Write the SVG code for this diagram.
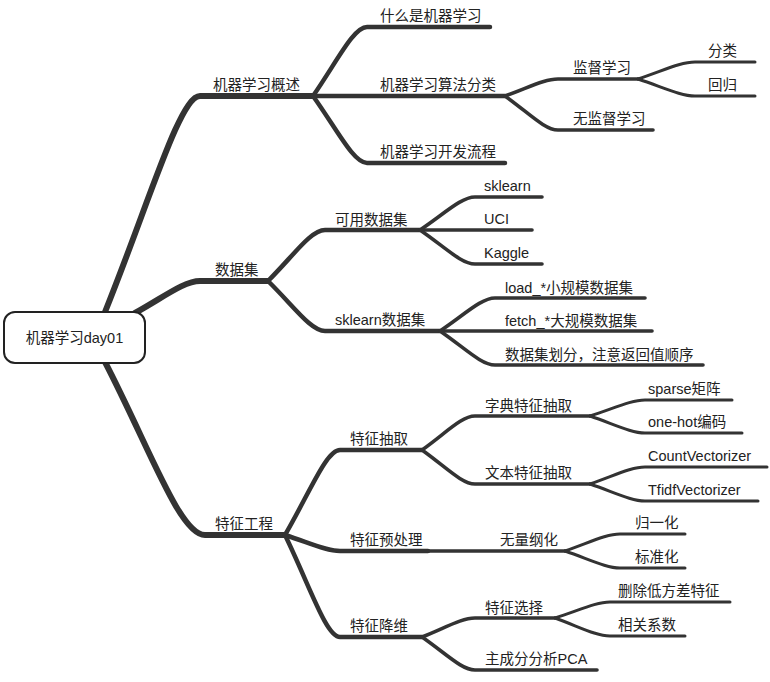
<svg xmlns="http://www.w3.org/2000/svg" width="770" height="682" viewBox="0 0 770 682">
<style>
  .bg { fill: #ffffff; }
  .l { fill: none; stroke: #333333; stroke-linecap: round; stroke-linejoin: round; }
  .l1 { stroke-width: 6; }
  .l2 { stroke-width: 4.5; }
  .l3 { stroke-width: 3.6; }
  .l4 { stroke-width: 3; }
  text { font-family: "Liberation Sans", "Noto Sans CJK SC", sans-serif; font-size: 14.5px; fill: #222222; }
  .root { fill: #ffffff; stroke: #222222; stroke-width: 2; }
</style>
<rect class="bg" x="0" y="0" width="770" height="682"/>
<g id="connectors">
  <path class="l l1" d="M105,312 C150,200 180,96 200,96 H313"/>
  <path class="l l1" d="M135,313 C164,297 184,281 200,281 H268"/>
  <path class="l l1" d="M105,362 C150,449 180,535 205,535 H285"/>

  <path class="l l2" d="M313,96 C337,61.5 353.5,27 367,27 H490"/>
  <path class="l l2" d="M313,96 H505"/>
  <path class="l l2" d="M313,96 C337,129.5 353.5,163 367,163 H505"/>
  <path class="l l2" d="M268,281 C293.6,255.5 310.8,230 325,230 H420"/>
  <path class="l l2" d="M268,281 C293.6,306 310.8,331 325,331 H440"/>
  <path class="l l2" d="M285,535 C309.75,492.5 326.25,450 340,450 H422"/>
  <path class="l l2" d="M285,535 C309.75,543 326.25,551 340,551 H428"/>
  <path class="l l2" d="M285,535 C309.75,586 326.25,637 340,637 H422"/>

  <path class="l l3" d="M505,96 C528.85,87.5 544.75,79 558,79 H638"/>
  <path class="l l3" d="M505,96 C528.85,113 544.75,130 558,130 H653"/>
  <path class="l l3" d="M420,230 C444.75,213.5 461.25,197 475,197 H542"/>
  <path class="l l3" d="M420,230 H532"/>
  <path class="l l3" d="M420,230 C444.75,247 461.25,264 475,264 H542"/>
  <path class="l l3" d="M440,331 C464.75,314.5 481.25,298 495,298 H645"/>
  <path class="l l3" d="M440,331 H652"/>
  <path class="l l3" d="M440,331 C464.75,348 481.25,365 495,365 H703"/>
  <path class="l l3" d="M422,450 C445.85,433 461.75,416 475,416 H590"/>
  <path class="l l3" d="M422,450 C445.85,467 461.75,484 475,484 H590"/>
  <path class="l l3" d="M428,551 H565"/>
  <path class="l l3" d="M422,637 C445.85,627.5 461.75,618 475,618 H555"/>
  <path class="l l3" d="M422,637 C445.85,653.5 461.75,670 475,670 H597"/>

  <path class="l l4" d="M638,79 C663.65,70.5 680.75,62 695,62 H755"/>
  <path class="l l4" d="M638,79 C663.65,87.5 680.75,96 695,96 H755"/>
  <path class="l l4" d="M590,416 C614.75,408 631.25,400 645,400 H732"/>
  <path class="l l4" d="M590,416 C614.75,424.5 631.25,433 645,433 H742"/>
  <path class="l l4" d="M590,484 C614.75,475.5 631.25,467 645,467 H767"/>
  <path class="l l4" d="M590,484 C614.75,492.5 631.25,501 645,501 H758"/>
  <path class="l l4" d="M565,551 C589.75,542.5 606.25,534 620,534 H685"/>
  <path class="l l4" d="M565,551 C589.75,559.5 606.25,568 620,568 H685"/>
  <path class="l l4" d="M555,618 C579.75,610 596.25,602 610,602 H730"/>
  <path class="l l4" d="M555,618 C579.75,627 596.25,636 610,636 H685"/>
</g>

<g id="n-root">
  <rect class="root" x="4" y="312" width="141" height="51" rx="11" ry="11"/>
  <text x="74.5" y="343" text-anchor="middle">机器学习day01</text>
</g>
<g id="n-overview"><text x="213" y="90">机器学习概述</text></g>
<g id="n-what"><text x="380" y="21">什么是机器学习</text></g>
<g id="n-algo"><text x="380" y="90">机器学习算法分类</text></g>
<g id="n-flow"><text x="380" y="157">机器学习开发流程</text></g>
<g id="n-supervised"><text x="573" y="73">监督学习</text></g>
<g id="n-unsupervised"><text x="573" y="124">无监督学习</text></g>
<g id="n-classify"><text x="708" y="56">分类</text></g>
<g id="n-regress"><text x="708" y="90">回归</text></g>

<g id="n-dataset"><text x="215" y="275">数据集</text></g>
<g id="n-available"><text x="335" y="225">可用数据集</text></g>
<g id="n-sklearn"><text x="484" y="191">sklearn</text></g>
<g id="n-uci"><text x="484" y="224">UCI</text></g>
<g id="n-kaggle"><text x="484" y="258">Kaggle</text></g>
<g id="n-skdata"><text x="335" y="325">sklearn数据集</text></g>
<g id="n-load"><text x="505" y="293">load_*小规模数据集</text></g>
<g id="n-fetch"><text x="505" y="326">fetch_*大规模数据集</text></g>
<g id="n-split"><text x="505" y="360">数据集划分，注意返回值顺序</text></g>

<g id="n-fe"><text x="215" y="529">特征工程</text></g>
<g id="n-extract"><text x="350" y="444">特征抽取</text></g>
<g id="n-dict"><text x="485" y="411">字典特征抽取</text></g>
<g id="n-sparse"><text x="648" y="394">sparse矩阵</text></g>
<g id="n-onehot"><text x="648" y="427">one-hot编码</text></g>
<g id="n-textfe"><text x="485" y="478">文本特征抽取</text></g>
<g id="n-count"><text x="648" y="461">CountVectorizer</text></g>
<g id="n-tfidf"><text x="648" y="495">TfidfVectorizer</text></g>
<g id="n-preproc"><text x="350" y="545">特征预处理</text></g>
<g id="n-dimless"><text x="500" y="545">无量纲化</text></g>
<g id="n-norm"><text x="635" y="528">归一化</text></g>
<g id="n-std"><text x="635" y="562">标准化</text></g>
<g id="n-reduce"><text x="350" y="631">特征降维</text></g>
<g id="n-select"><text x="485" y="613">特征选择</text></g>
<g id="n-lowvar"><text x="618" y="596">删除低方差特征</text></g>
<g id="n-corr"><text x="618" y="630">相关系数</text></g>
<g id="n-pca"><text x="485" y="664">主成分分析PCA</text></g>
</svg>
